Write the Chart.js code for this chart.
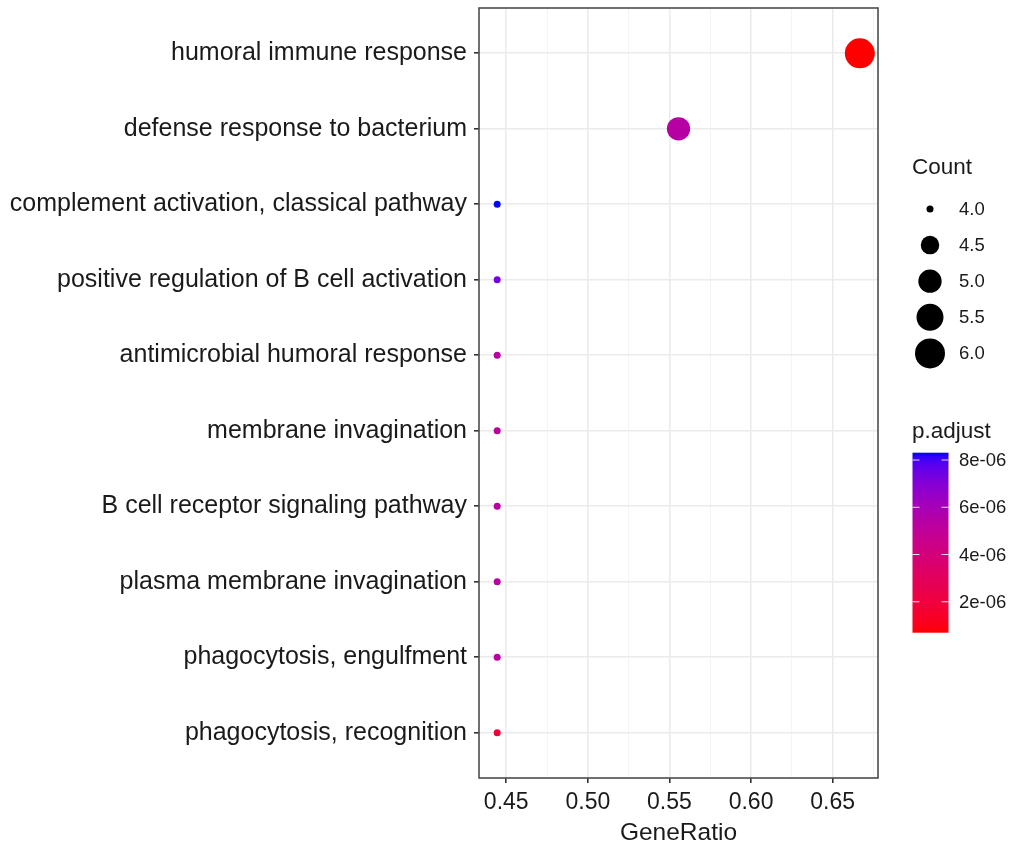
<!DOCTYPE html>
<html>
<head>
<meta charset="utf-8">
<script src="https://cdn.jsdelivr.net/npm/chart.js@4.4.1/dist/chart.umd.min.js"></script>
<style>
  html, body { margin: 0; padding: 0; background: #ffffff; }
  #c { display: block; }
</style>
</head>
<body>
<canvas id="c" width="1012" height="845"></canvas>
<script>
// ---------------- data ----------------
const categories = [
  "humoral immune response",
  "defense response to bacterium",
  "complement activation, classical pathway",
  "positive regulation of B cell activation",
  "antimicrobial humoral response",
  "membrane invagination",
  "B cell receptor signaling pathway",
  "plasma membrane invagination",
  "phagocytosis, engulfment",
  "phagocytosis, recognition"
];
const geneRatio = [6/9, 5/9, 4/9, 4/9, 4/9, 4/9, 4/9, 4/9, 4/9, 4/9];
const counts    = [6, 5, 4, 4, 4, 4, 4, 4, 4, 4];
const pAdjust   = [0.69e-6, 5.4e-6, 8.31e-6, 7.3e-6, 5.3e-6, 5.3e-6, 5.3e-6, 5.3e-6, 5.3e-6, 2.0e-6];

const xMajorTicks = [0.45, 0.50, 0.55, 0.60, 0.65];
const xTickLabels = ["0.45", "0.50", "0.55", "0.60", "0.65"];
const xMinorTicks = [0.475, 0.525, 0.575, 0.625, 0.675];

const countLegendValues = [4.0, 4.5, 5.0, 5.5, 6.0];
const countLegendLabels = ["4.0", "4.5", "5.0", "5.5", "6.0"];
const pLegendValues = [8e-6, 6e-6, 4e-6, 2e-6];
const pLegendLabels = ["8e-06", "6e-06", "4e-06", "2e-06"];

// ---------------- helpers (styles) ----------------
const FONT = "'Liberation Sans', Arial, Helvetica, sans-serif";
const TEXT = "#1a1a1a";

function s2l(c) { c /= 255; return c <= 0.04045 ? c / 12.92 : Math.pow((c + 0.055) / 1.055, 2.4); }
function l2s(c) { c = c <= 0.0031308 ? 12.92 * c : 1.055 * Math.pow(c, 1 / 2.4) - 0.055; return Math.round(Math.max(0, Math.min(1, c)) * 255); }
const Xn = 0.95047, Yn = 1.0, Zn = 1.08883;
function rgbToLab(rgb) {
  const r = s2l(rgb[0]), g = s2l(rgb[1]), b = s2l(rgb[2]);
  const X = (0.4124 * r + 0.3576 * g + 0.1805 * b) / Xn;
  const Y = (0.2126 * r + 0.7152 * g + 0.0722 * b) / Yn;
  const Z = (0.0193 * r + 0.1192 * g + 0.9505 * b) / Zn;
  const f = t => t > 0.008856 ? Math.cbrt(t) : 7.787 * t + 16 / 116;
  const fx = f(X), fy = f(Y), fz = f(Z);
  return [116 * fy - 16, 500 * (fx - fy), 200 * (fy - fz)];
}
function labToRgb(lab) {
  const fy = (lab[0] + 16) / 116, fx = fy + lab[1] / 500, fz = fy - lab[2] / 200;
  const fi = t => (t * t * t > 0.008856 ? t * t * t : (t - 16 / 116) / 7.787);
  const X = Xn * fi(fx), Y = Yn * fi(fy), Z = Zn * fi(fz);
  const r = 3.2406 * X - 1.5372 * Y - 0.4986 * Z;
  const g = -0.9689 * X + 1.8758 * Y + 0.0415 * Z;
  const b = 0.0557 * X - 0.2040 * Y + 1.0570 * Z;
  return "rgb(" + l2s(r) + "," + l2s(g) + "," + l2s(b) + ")";
}
const LAB_LOW = rgbToLab([255, 0, 0]);
const LAB_HIGH = rgbToLab([0, 0, 255]);
const pMin = Math.min(...pAdjust), pMax = Math.max(...pAdjust);
function colorFor(p) {
  const t = Math.max(0, Math.min(1, (p - pMin) / (pMax - pMin)));
  return labToRgb([0, 1, 2].map(i => LAB_LOW[i] + (LAB_HIGH[i] - LAB_LOW[i]) * t));
}
const cMin = Math.min(...counts), cMax = Math.max(...counts);
const R_MIN = 3.5, R_MAX = 15;
function radiusFor(c) {
  const t = Math.max(0, (c - cMin) / (cMax - cMin));
  return R_MIN + (R_MAX - R_MIN) * Math.sqrt(t);
}

const points = categories.map((_, i) => ({ x: geneRatio[i], y: i }));

// ---------------- plugins ----------------
const panelBorder = {
  id: "panelBorder",
  afterDatasetsDraw(chart) {
    const { ctx, chartArea: a } = chart;
    ctx.save();
    ctx.strokeStyle = "#4d4d4d";
    ctx.lineWidth = 1.6;
    ctx.strokeRect(a.left, a.top, a.right - a.left, a.bottom - a.top);
    ctx.restore();
  }
};

const legends = {
  id: "legends",
  afterDraw(chart) {
    const ctx = chart.ctx;
    ctx.save();
    // Count legend
    ctx.fillStyle = TEXT;
    ctx.textAlign = "left";
    ctx.textBaseline = "middle";
    ctx.font = "22.5px " + FONT;
    ctx.fillText("Count", 912, 168);
    ctx.font = "18.5px " + FONT;
    countLegendValues.forEach((v, i) => {
      const cy = 209 + i * 36.1;
      ctx.beginPath();
      ctx.fillStyle = "#000000";
      ctx.arc(930, cy, radiusFor(v), 0, Math.PI * 2);
      ctx.fill();
      ctx.fillStyle = TEXT;
      ctx.fillText(countLegendLabels[i], 959, cy + 1);
    });
    // p.adjust colourbar
    ctx.font = "22.5px " + FONT;
    ctx.fillText("p.adjust", 912, 432);
    const bx = 912.5, by = 452.7, bw = 36, bh = 180;
    const grad = ctx.createLinearGradient(0, by + bh, 0, by);
    for (let k = 0; k <= 40; k++) {
      const t = k / 40;
      grad.addColorStop(t, colorFor(pMin + (pMax - pMin) * t));
    }
    ctx.fillStyle = grad;
    ctx.fillRect(bx, by, bw, bh);
    ctx.font = "18.5px " + FONT;
    pLegendValues.forEach((v, i) => {
      const y = by + bh - (v - pMin) / (pMax - pMin) * bh;
      ctx.strokeStyle = "rgba(255,255,255,0.85)";
      ctx.lineWidth = 1;
      ctx.beginPath();
      ctx.moveTo(bx, y); ctx.lineTo(bx + 7, y);
      ctx.moveTo(bx + bw - 7, y); ctx.lineTo(bx + bw, y);
      ctx.stroke();
      ctx.fillStyle = TEXT;
      ctx.fillText(pLegendLabels[i], 959, y + 1);
    });
    ctx.restore();
  }
};

// ---------------- chart ----------------
new Chart(document.getElementById("c"), {
  type: "scatter",
  data: {
    datasets: [{
      data: points,
      backgroundColor: pAdjust.map(colorFor),
      borderWidth: 0,
      pointRadius: counts.map(radiusFor),
      pointHoverRadius: counts.map(radiusFor)
    }]
  },
  options: {
    responsive: false,
    devicePixelRatio: 1,
    animation: false,
    layout: { autoPadding: false, padding: { left: 0, top: 8, right: 134, bottom: 0 } },
    plugins: { legend: { display: false }, tooltip: { enabled: false } },
    scales: {
      x: {
        type: "linear",
        min: 0.4333,
        max: 0.6778,
        afterBuildTicks: s => {
          s.ticks = xMajorTicks.concat(xMinorTicks).sort((a, b) => a - b).map(v => ({ value: v }));
        },
        afterFit: s => { s.height = 67; s.paddingLeft = 0; s.paddingRight = 0; },
        border: { display: false },
        grid: {
          color: c => (xMajorTicks.some(v => Math.abs(v - c.tick.value) < 1e-9) ? "#ebebeb" : "#f3f3f3"),
          lineWidth: c => (xMajorTicks.some(v => Math.abs(v - c.tick.value) < 1e-9) ? 1.6 : 0.9),
          tickColor: c => (xMajorTicks.some(v => Math.abs(v - c.tick.value) < 1e-9) ? "#333333" : "rgba(0,0,0,0)"),
          tickWidth: 1.6,
          tickLength: 5,
          drawTicks: true
        },
        ticks: {
          autoSkip: false,
          maxRotation: 0,
          padding: 6,
          color: TEXT,
          font: { family: FONT, size: 23 },
          callback: v => {
            const i = xMajorTicks.findIndex(m => Math.abs(m - v) < 1e-9);
            return i >= 0 ? xTickLabels[i] : "";
          }
        },
        title: {
          display: true,
          text: "GeneRatio",
          color: TEXT,
          font: { family: FONT, size: 24.5, lineHeight: 1 },
          padding: { top: 0, bottom: 0 }
        }
      },
      y: {
        type: "linear",
        reverse: true,
        min: -0.6,
        max: 9.6,
        afterBuildTicks: s => { s.ticks = categories.map((_, i) => ({ value: i })); },
        afterFit: s => { s.width = 479; s.paddingTop = 0; s.paddingBottom = 0; },
        border: { display: false },
        grid: {
          color: "#ebebeb",
          lineWidth: 1.6,
          tickColor: "#333333",
          tickWidth: 1.6,
          tickLength: 5
        },
        ticks: {
          autoSkip: false,
          padding: 7,
          color: TEXT,
          font: { family: FONT, size: 25 },
          callback: v => categories[v]
        }
      }
    }
  },
  plugins: [panelBorder, legends]
});
</script>
</body>
</html>
